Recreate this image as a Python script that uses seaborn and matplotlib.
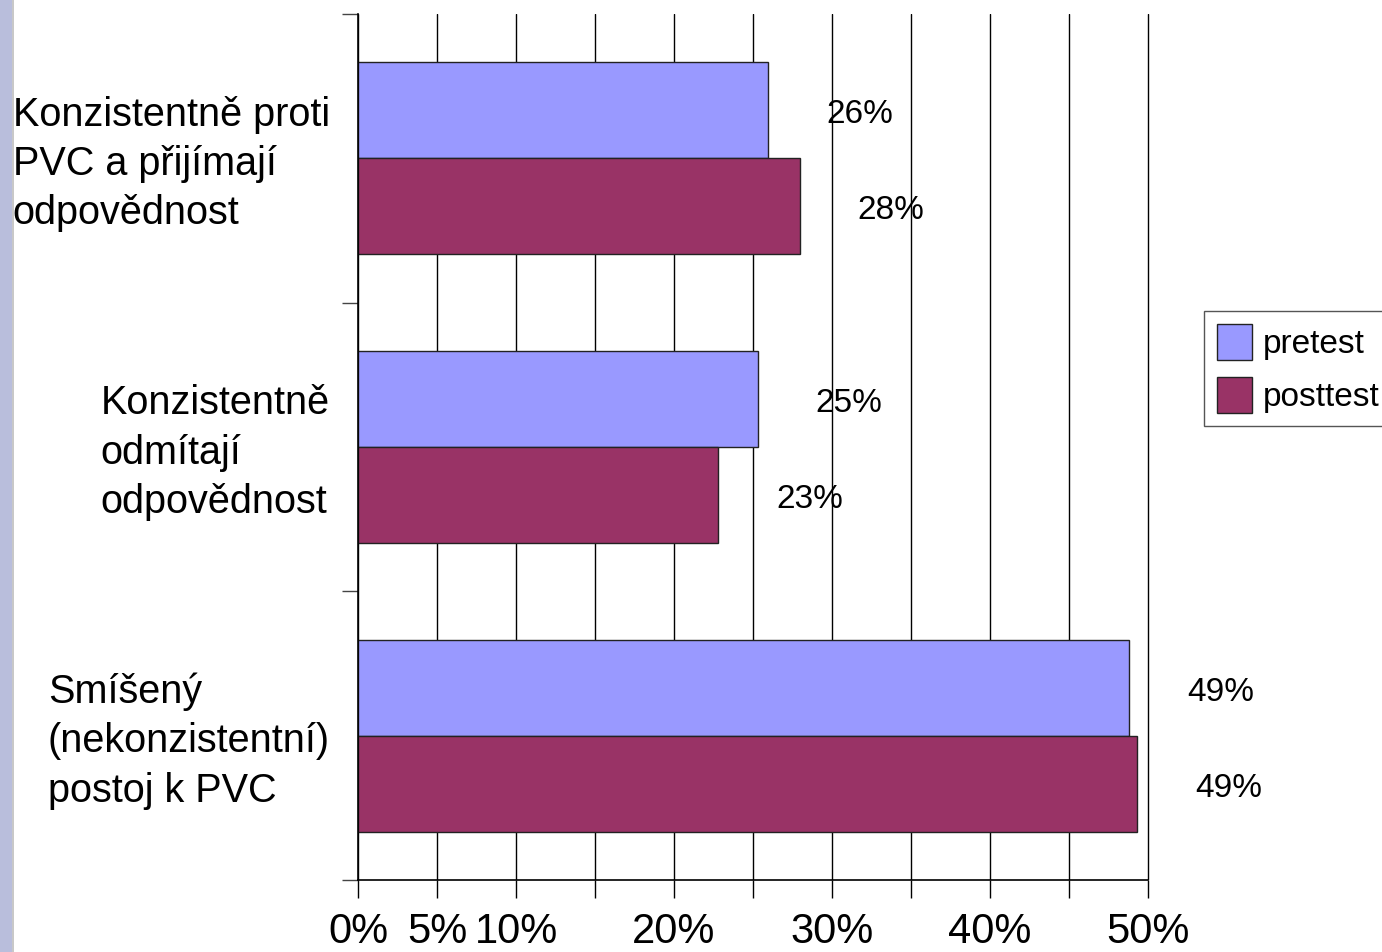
import matplotlib
matplotlib.use("Agg")
import matplotlib.pyplot as plt
import matplotlib.transforms as mtransforms
from matplotlib.patches import Rectangle
import numpy as np
import pandas as pd
import seaborn as sns

# Data
categories = [
    "Konzistentně proti\nPVC a přijímají\nodpovědnost",
    "Konzistentně\nodmítají\nodpovědnost",
    "Smíšený\n(nekonzistentní)\npostoj k PVC",
]
series = ["pretest", "posttest"]
pretest = [26, 25, 49]
posttest = [28, 23, 49]
bar_values = {
    "pretest": [25.95, 25.3, 48.8],
    "posttest": [27.95, 22.8, 49.3],
}
labels_text = {"pretest": pretest, "posttest": posttest}
xtick_values = [0, 5, 10, 15, 20, 25, 30, 35, 40, 45, 50]
xtick_labels = ["0%", "5%", "10%", "", "20%", "", "30%", "", "40%", "", "50%"]
colors = {"pretest": "#9999ff", "posttest": "#993366"}

rows = []
for s in series:
    for c, v in zip(categories, bar_values[s]):
        rows.append({"kategorie": c, "hodnota": v, "test": s})
df = pd.DataFrame(rows)

sns.set_style("white")
plt.rcParams["font.family"] = ["Liberation Sans", "DejaVu Sans"]
plt.rcParams["text.color"] = "black"
plt.rcParams["xtick.color"] = "black"
plt.rcParams["ytick.color"] = "black"

W, H = 1382, 952
PT = 72 / 100  # points per pixel at 100 dpi
XMAX = 50.15
x0_px, x50_px = 358, 1148
ax_w_px = (x50_px - x0_px) * XMAX / 50
fig = plt.figure(figsize=(W / 100, H / 100), dpi=100)
ax = fig.add_axes([x0_px / W, 1 - 880 / H, ax_w_px / W, (880 - 14) / H])

# Decorative strip along the left edge
fig.patches.append(Rectangle((0, 0), 12 / W, 1, transform=fig.transFigure,
                             facecolor="#b9bedc", edgecolor="none", zorder=0))
fig.patches.append(Rectangle((12 / W, 0), 1.5 / W, 1, transform=fig.transFigure,
                             facecolor="#c8c8c8", edgecolor="none", zorder=0))

sns.barplot(data=df, y="kategorie", x="hodnota", hue="test", order=categories,
            hue_order=series, palette=colors, orient="h", width=0.665,
            saturation=1, edgecolor="#222222", linewidth=1.0, ax=ax)

ax.set_xlim(0, XMAX)
ax.set_ylim(2.5, -0.5)
ax.set_xlabel("")
ax.set_ylabel("")

# Grid and spines
ax.set_axisbelow(True)
ax.grid(axis="x", color="black", linewidth=1.0)
ax.grid(axis="y", visible=False)
for side in ["top", "right"]:
    ax.spines[side].set_visible(False)
for side in ["left", "bottom"]:
    ax.spines[side].set_color("black")
    ax.spines[side].set_linewidth(1.2)
ax.spines["bottom"].set_bounds(0, 50)

# X ticks
ax.set_xticks(xtick_values)
ax.set_xticklabels(xtick_labels, fontsize=30, color="black")
ax.tick_params(axis="x", which="major", bottom=True, direction="out",
               length=18 * PT, width=1, color="black", pad=14 * PT)

# Y ticks: marks at category boundaries, labels at centres
ax.set_yticks([-0.5, 0.5, 1.5, 2.5])
ax.set_yticklabels([])
ax.tick_params(axis="y", which="major", left=True, direction="out",
               length=16 * PT, width=1, color="#444444")
ax.set_yticks([0, 1, 2], minor=True)
ax.set_yticklabels(categories, minor=True, fontsize=28.5, color="black",
                   linespacing=1.37, multialignment="left")
ax.tick_params(axis="y", which="minor", left=True, length=0, pad=28 * PT)
shift_up = mtransforms.ScaledTranslation(0, 4 / 100, fig.dpi_scale_trans)
for t in ax.get_yticklabels(minor=True):
    t.set_transform(t.get_transform() + shift_up)

# Value labels
for container, s in zip(ax.containers, series):
    for patch, lab in zip(container.patches, labels_text[s]):
        x_end = patch.get_x() + patch.get_width()
        y_mid = patch.get_y() + patch.get_height() / 2
        ax.annotate(f"{lab}%", xy=(x_end, y_mid), xytext=(58, -1),
                    textcoords="offset pixels", ha="left",
                    va="center_baseline", fontsize=24, color="black",
                    annotation_clip=False)

# Legend
handles, lbls = ax.get_legend_handles_labels()
leg = ax.legend(handles, lbls, loc="upper left",
                bbox_to_anchor=(1204 / W, 1 - 311 / H),
                bbox_transform=fig.transFigure, borderaxespad=0,
                fontsize=24, frameon=True, fancybox=False, framealpha=1,
                edgecolor="#555555", handlelength=1.03, handleheight=1.27,
                handletextpad=0.33, labelspacing=0.5, borderpad=0.4)
leg.get_frame().set_linewidth(1.0)
for t in leg.get_texts():
    t.set_color("black")

fig.savefig("out.png", dpi=100)
